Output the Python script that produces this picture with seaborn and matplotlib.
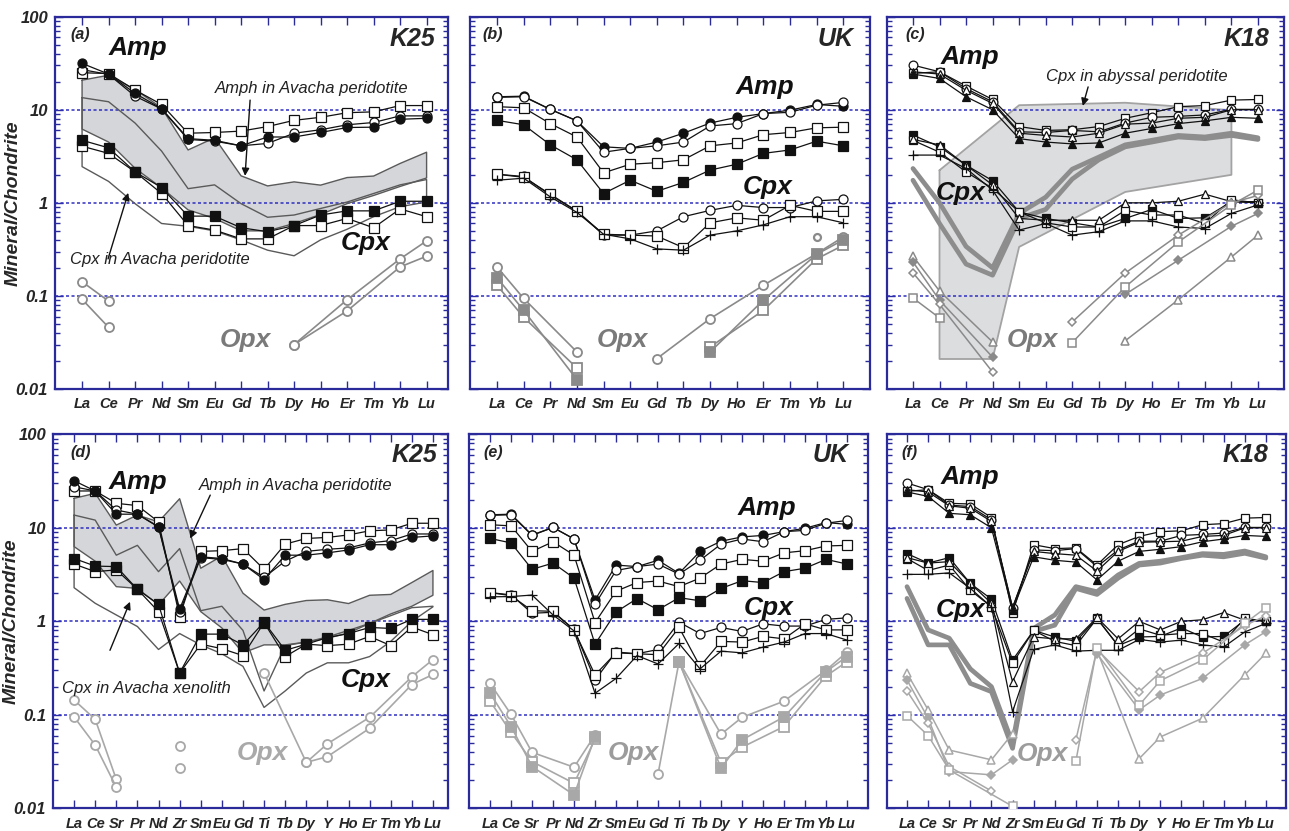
import numpy as np
import pandas as pd
import matplotlib
matplotlib.use("Agg")
import matplotlib.pyplot as plt
import seaborn as sns
from matplotlib.ticker import LogLocator, NullFormatter, FixedLocator

sns.set_style("white")
plt.rcParams['font.family'] = ['Liberation Sans', 'DejaVu Sans']

N = None
REE = ['La', 'Ce', 'Pr', 'Nd', 'Sm', 'Eu', 'Gd', 'Tb', 'Dy', 'Ho', 'Er', 'Tm', 'Yb', 'Lu']
EXT = ['La', 'Ce', 'Sr', 'Pr', 'Nd', 'Zr', 'Sm', 'Eu', 'Gd', 'Ti', 'Tb', 'Dy', 'Y', 'Ho', 'Er', 'Tm', 'Yb', 'Lu']
YTICKS = [0.01, 0.1, 1, 10, 100]
YTICKLABELS = ['0.01', '0.1', '1', '10', '100']

# ---------------- (a) K25, REE ----------------
amp_a_fc = [31.5, 24.2, 15.0, 10.3, 4.9, 4.7, 4.1, 5.1, 5.1, 5.7, 6.45, 6.5, 7.9, 8.1]
amp_a_oc = [27, 24, 14, 10.2, 4.8, 4.6, 4.1, 4.35, 5.6, 6.1, 6.9, 7.3, 8.6, 8.6]
amp_a_os = [25, 24.5, 16.3, 11.4, 5.6, 5.7, 5.9, 6.6, 7.7, 8.3, 9.3, 9.5, 11.1, 11.1]
cpx_a_fs = [4.7, 3.9, 2.15, 1.46, 0.72, 0.72, 0.54, 0.49, 0.57, 0.74, 0.82, 0.82, 1.04, 1.04]
cpx_a_os = [4.06, 3.4, 2.15, 1.26, 0.57, 0.51, 0.41, 0.41, 0.57, 0.57, 0.68, 0.54, 0.86, 0.71]
opx_a1_lo = [0.142, 0.088] + [N] * 12
opx_a1_hi = [N, N, N, N, N, N, N, N, 0.030, N, 0.091, N, 0.25, 0.39]
opx_a2_lo = [0.092, 0.046] + [N] * 12
opx_a2_hi = [N, N, N, N, N, N, N, N, 0.030, N, 0.069, N, 0.205, 0.267]
amph_field_a_top = [20.8, 23.5, 16.5, 10.5, 3.7, 5.0, 1.95, 1.52, 1.68, 1.55, 1.87, 1.94, 2.65, 3.5]
amph_field_a_bot = [6.2, 4.5, 2.35, 1.45, 0.84, 0.68, 0.50, 0.50, 0.60, 0.75, 0.98, 1.2, 1.5, 1.85]
cpx_field_a_top = [13.5, 12.2, 7.2, 3.6, 1.42, 1.56, 0.98, 0.70, 0.74, 0.87, 1.02, 1.26, 1.56, 1.78]
cpx_field_a_bot = [2.45, 1.7, 0.98, 0.60, 0.56, 0.50, 0.40, 0.31, 0.27, 0.40, 0.52, 0.71, 0.91, 1.02]

# ---------------- (b) UK, REE ----------------
amp_b_fc = [13.8, 14.0, 10.1, 7.6, 4.0, 3.85, 4.5, 5.6, 7.2, 8.3, 9.1, 9.9, 11.4, 10.9]
amp_b_oc = [13.6, 13.8, 10.1, 7.6, 3.5, 3.85, 4.1, 4.5, 6.7, 7.1, 9.1, 9.4, 11.2, 12.0]
amp_b_os = [10.8, 10.5, 7.1, 5.1, 2.1, 2.6, 2.7, 2.9, 4.1, 4.4, 5.4, 5.7, 6.4, 6.5]
amp_b_fs = [7.7, 6.9, 4.2, 2.9, 1.26, 1.75, 1.33, 1.66, 2.25, 2.6, 3.4, 3.7, 4.6, 4.1]
cpx_b_oc = [2.03, 1.92, 1.21, 0.82, 0.45, 0.45, 0.50, 0.71, 0.83, 0.94, 0.89, 0.89, 1.05, 1.09]
cpx_b_os = [2.03, 1.88, 1.24, 0.81, 0.46, 0.45, 0.44, 0.33, 0.61, 0.69, 0.65, 0.94, 0.81, 0.81]
cpx_b_pl = [1.75, 1.84, 1.16, 0.79, 0.46, 0.41, 0.32, 0.31, 0.45, 0.50, 0.58, 0.71, 0.71, 0.61]
opx_b_oc_lo = [0.205, 0.094, N, 0.025] + [N] * 10
opx_b_oc_hi = [N, N, N, N, N, N, 0.0212, N, 0.057, N, 0.130, N, 0.285, 0.43]
opx_b_os_lo = [0.13, 0.059, N, 0.0168] + [N] * 10
opx_b_os_hi = [N, N, N, N, N, N, N, N, 0.0283, N, 0.070, N, 0.25, 0.35]
opx_b_gs_lo = [0.157, 0.070, N, 0.0126] + [N] * 10
opx_b_gs_hi = [N, N, N, N, N, N, N, N, 0.025, N, 0.09, N, 0.28, 0.40]
opx_b_single = [N] * 12 + [0.43, N]

# ---------------- (c) K18, REE ----------------
amp_c_oc = [30.2, 25.6, 16.9, 12.2, 5.8, 5.7, 6.0, 5.8, 7.2, 8.3, 8.5, 8.8, 10.1, 10.1]
amp_c_os = [24.6, 25.6, 18.0, 12.9, 6.6, 6.0, 6.1, 6.6, 8.1, 9.3, 10.8, 11.1, 12.7, 12.9]
amp_c_ot = [25.6, 24.2, 16.2, 11.7, 5.6, 5.3, 5.1, 5.6, 7.0, 7.2, 8.1, 8.3, 10.0, 10.0]
amp_c_ft = [24.2, 21.7, 13.8, 10.0, 4.9, 4.5, 4.3, 4.4, 5.6, 6.3, 7.1, 7.6, 8.3, 8.1]
cpx_c_fs = [5.35, 4.0, 2.54, 1.73, 0.80, 0.68, 0.61, 0.55, 0.68, 0.85, 0.68, 0.69, 1.03, 1.0]
cpx_c_os = [4.7, 3.5, 2.15, 1.43, 0.80, 0.61, 0.55, 0.55, 0.83, 0.74, 0.74, 0.60, 1.08, 1.0]
cpx_c_ot = [4.8, 4.2, 2.54, 1.56, 0.68, 0.65, 0.65, 0.65, 1.0, 1.0, 1.04, 1.24, 1.03, 1.03]
cpx_c_pl = [3.26, 3.26, 2.34, 1.37, 0.51, 0.60, 0.45, 0.49, 0.64, 0.64, 0.55, 0.53, 0.77, 0.95]
opx_c_ot_lo = [0.267, 0.113, N, 0.032] + [N] * 10
opx_c_ot_hi = [N, N, N, N, N, N, N, N, 0.033, N, 0.091, N, 0.262, 0.45]
opx_c_fd_lo = [0.232, 0.09, N, 0.022] + [N] * 10
opx_c_fd_hi = [N, N, N, N, N, N, N, N, 0.104, N, 0.242, N, 0.56, 0.77]
opx_c_od_lo = [0.177, 0.081, N, 0.0152] + [N] * 10
opx_c_od_hi = [N, N, N, N, N, N, 0.0525, N, 0.176, N, 0.45, N, 1.0, 1.2]
opx_c_os_lo = [0.095, 0.058] + [N] * 12
opx_c_os_hi = [N, N, N, N, N, N, 0.0315, N, 0.125, N, 0.38, N, 0.95, 1.37]
thick_c_a = [2.34, 1.0, 0.34, 0.20, 0.77, 1.15, 2.3, 3.1, 4.2, 4.7, 5.3, 5.1, 5.6, 5.0]
thick_c_b = [1.75, 0.6, 0.22, 0.167, 0.68, 0.85, 1.8, 2.9, 4.0, 4.5, 5.1, 4.9, 5.3, 4.8]
abyssal_top = [N, 2.24, N, N, 11.2, N, N, N, 11.9, N, N, N, 9.9, N]
abyssal_bot = [N, 0.021, N, 0.021, 0.336, N, N, N, 1.31, N, N, N, 2.0, N]

# ---------------- (d) K25, extended ----------------
amp_d_fc = [31.9, 24.8, 14.0, 14.0, 10.3, 1.35, 4.9, 4.7, 4.1, 2.8, 5.1, 5.1, 5.4, 5.8, 6.6, 6.6, 7.9, 8.2]
amp_d_oc = [27.5, 24.8, 15.5, 14.0, 10.2, 1.25, 4.8, 4.6, 4.1, 2.95, 4.4, 5.6, 5.9, 6.1, 6.9, 7.3, 8.6, 8.6]
amp_d_os = [24.8, 24.8, 18.3, 17.3, 11.6, 1.12, 5.6, 5.7, 6.0, 3.6, 6.7, 7.7, 7.9, 8.4, 9.3, 9.5, 11.2, 11.2]
cpx_d_fs = [4.7, 3.9, 3.85, 2.2, 1.52, 0.28, 0.73, 0.73, 0.56, 0.98, 0.49, 0.57, 0.67, 0.74, 0.86, 0.84, 1.05, 1.05]
cpx_d_os = [4.1, 3.4, 3.55, 2.2, 1.27, 0.28, 0.57, 0.51, 0.43, 0.97, 0.42, 0.57, 0.55, 0.57, 0.69, 0.55, 0.87, 0.72]
opx_d1_lo = [0.144, 0.0895, 0.0204] + [N] * 15
opx_d1_zr = [N, N, N, N, N, 0.0465] + [N] * 12
opx_d1_hi = [N, N, N, N, N, N, N, N, N, 0.28, N, 0.031, 0.049, N, 0.094, N, 0.255, 0.39]
opx_d2_lo = [0.095, 0.0475, 0.0168] + [N] * 15
opx_d2_zr = [N, N, N, N, N, 0.0268] + [N] * 12
opx_d2_hi = [N, N, N, N, N, N, N, N, N, N, N, 0.031, 0.0357, N, 0.0718, N, 0.211, 0.27]
amph_field_d_top = [20.7, 23.4, 10.7, 13.7, 11.6, 20.5, 3.7, 5.0, 2.0, 1.32, 1.52, 1.67, 1.7, 1.55, 1.9, 1.94, 2.6, 3.5]
amph_field_d_bot = [6.3, 4.4, 2.35, 2.25, 1.5, 2.7, 1.27, 0.85, 0.46, 0.56, 0.56, 0.60, 0.66, 0.75, 0.95, 1.2, 1.45, 1.9]
cpx_field_d_top = [13.7, 12.1, 5.1, 6.5, 3.4, 6.0, 1.3, 1.45, 0.8, 0.18, 0.55, 0.60, 0.68, 0.80, 0.95, 1.15, 1.4, 1.45]
cpx_field_d_bot = [2.29, 1.56, 1.17, 0.88, 0.50, 0.74, 0.56, 0.45, 0.33, 0.12, 0.18, 0.28, 0.36, 0.36, 0.42, 0.61, 1.0, 1.43]

# ---------------- (e) UK, extended ----------------
amp_e_fc = [13.8, 14.0, 8.4, 10.1, 7.6, 1.69, 4.0, 3.85, 4.5, 3.26, 5.6, 7.2, 8.0, 8.3, 9.1, 9.9, 11.4, 10.9]
amp_e_oc = [13.6, 13.8, 8.3, 10.1, 7.6, 1.52, 3.5, 3.85, 4.1, 3.2, 4.5, 6.7, 7.6, 7.1, 9.1, 9.4, 11.2, 12.0]
amp_e_os = [10.8, 10.5, 5.6, 7.1, 5.1, 0.97, 2.1, 2.6, 2.7, 2.35, 2.9, 4.1, 4.6, 4.4, 5.4, 5.7, 6.4, 6.5]
amp_e_fs = [7.7, 6.9, 3.6, 4.2, 2.9, 0.57, 1.26, 1.75, 1.33, 1.79, 1.66, 2.25, 2.72, 2.6, 3.4, 3.7, 4.6, 4.1]
cpx_e_oc = [2.03, 1.92, 1.22, 1.25, 0.82, 0.236, 0.47, 0.45, 0.50, 0.98, 0.74, 0.86, 0.78, 0.94, 0.89, 0.89, 1.05, 1.09]
cpx_e_os = [2.03, 1.88, 1.30, 1.28, 0.81, 0.267, 0.46, 0.45, 0.44, 0.86, 0.33, 0.61, 0.60, 0.69, 0.65, 0.94, 0.81, 0.81]
cpx_e_pl = [1.83, 1.84, 1.91, 1.17, 0.79, 0.17, 0.245, 0.43, 0.35, 0.58, 0.31, 0.48, 0.46, 0.53, 0.60, 0.74, 0.74, 0.63]
opx_e_oc_lo = [0.217, 0.101, 0.0397, N, 0.0275, 0.061] + [N] * 12
opx_e_oc_hi = [N, N, N, N, N, N, N, N, 0.0233, 0.37, N, 0.062, 0.094, N, 0.14, N, 0.30, 0.47]
opx_e_os_lo = [0.14, 0.065, 0.0316, N, 0.0185, 0.055] + [N] * 12
opx_e_os_hi = [N, N, N, N, N, N, N, N, N, 0.37, N, 0.0308, 0.045, N, 0.075, N, 0.26, 0.37]
opx_e_gs_lo = [0.17, 0.075, 0.028, N, 0.0139, 0.058] + [N] * 12
opx_e_gs_hi = [N, N, N, N, N, N, N, N, N, 0.37, N, 0.0268, 0.054, N, 0.095, N, 0.29, 0.42]

# ---------------- (f) K18, extended ----------------
amp_f_oc = [30.2, 25.6, 17.5, 16.9, 12.2, 1.4, 5.8, 5.7, 6.0, 3.85, 5.8, 7.2, 7.2, 8.3, 8.5, 8.8, 10.1, 10.1]
amp_f_os = [24.6, 25.6, 18.3, 18.0, 12.9, 1.22, 6.6, 6.0, 6.1, 4.0, 6.6, 8.1, 9.1, 9.3, 10.8, 11.1, 12.7, 12.9]
amp_f_ot = [25.6, 24.2, 17.2, 16.2, 11.7, 1.4, 5.6, 5.3, 5.1, 3.45, 5.6, 7.0, 7.1, 7.2, 8.1, 8.3, 10.0, 10.0]
amp_f_ft = [24.2, 21.7, 14.3, 13.8, 10.0, 1.32, 4.9, 4.5, 4.3, 2.77, 4.4, 5.6, 5.9, 6.3, 7.1, 7.6, 8.3, 8.1]
cpx_f_fs = [5.3, 4.2, 4.8, 2.54, 1.73, 0.385, 0.80, 0.68, 0.61, 1.08, 0.55, 0.68, 0.69, 0.85, 0.68, 0.69, 1.03, 1.0]
cpx_f_os = [4.7, 3.5, 4.0, 2.15, 1.43, 0.355, 0.80, 0.61, 0.55, 1.07, 0.55, 0.83, 0.71, 0.74, 0.74, 0.60, 1.08, 1.0]
cpx_f_ot = [4.8, 4.2, 4.35, 2.54, 1.56, 0.226, 0.68, 0.65, 0.65, 1.1, 0.65, 1.0, 0.81, 1.0, 1.04, 1.24, 1.03, 1.03]
cpx_f_pl = [3.18, 3.18, 3.3, 2.25, 1.43, 0.108, 0.50, 0.56, 0.48, 0.49, 0.49, 0.64, 0.60, 0.63, 0.56, 0.53, 0.77, 0.95]
opx_f_ot_lo = [0.278, 0.113, 0.042, N, 0.033, 0.063] + [N] * 12
opx_f_ot_hi = [N, N, N, N, N, N, N, N, N, 0.49, N, 0.034, 0.058, N, 0.092, N, 0.267, 0.455]
opx_f_fd_lo = [0.236, 0.092, 0.0247, N, 0.0228, 0.033] + [N] * 12
opx_f_fd_hi = [N, N, N, N, N, N, N, N, N, 0.45, N, 0.113, 0.163, N, 0.245, N, 0.56, 0.775]
opx_f_od_lo = [0.18, 0.081, 0.028, N, 0.0153] + [N] * 13
opx_f_od_hi = [N, N, N, N, N, N, N, N, 0.054, 0.50, N, 0.177, 0.285, N, 0.455, N, 0.9, 1.15]
opx_f_os_lo = [0.098, 0.06, 0.0257, N, N, 0.0105] + [N] * 12
opx_f_os_hi = [N, N, N, N, N, N, N, N, 0.032, 0.52, N, 0.127, 0.232, N, 0.385, N, 0.95, 1.4]
thick_f_a = [2.35, 0.81, 0.66, 0.31, 0.20, 0.0495, 0.84, 1.17, 2.35, 2.07, 3.13, 4.17, 4.4, 4.8, 5.3, 5.2, 5.65, 4.9]
thick_f_b = [1.76, 0.56, 0.56, 0.217, 0.177, 0.0438, 0.78, 0.91, 2.25, 1.94, 2.9, 4.0, 4.2, 4.7, 5.1, 4.9, 5.35, 4.75]

# ---------------- styling ----------------
NAVY = '#2a2a9a'
GRID = '#2f2fc0'
BLACK = '#111111'
GRAY_T = '#8a8a8a'
GRAY_B = '#a8a8a8'
FIELD_FILL = '#d5d6d9'
FIELD_EDGE = '#5a5a5a'


def arr(lst):
    return np.array([np.nan if v is None else v for v in lst], dtype=float)


def series(ax, lst, marker='o', mfc='white', color=BLACK, lw=0.9, ms=6.5, mew=0.9, z=4):
    y = arr(lst)
    df = pd.DataFrame({'pos': np.arange(len(y)), 'val': y}).dropna()
    if df.empty:
        return
    sns.lineplot(data=df, x='pos', y='val', ax=ax, color=color, linewidth=lw,
                 marker=marker, markersize=ms, markerfacecolor=mfc,
                 markeredgecolor=color, markeredgewidth=mew,
                 estimator=None, sort=False, legend=False, zorder=z)


def outline(ax, top, bot, fill=None, edge=FIELD_EDGE, lw=1.0, z=2):
    t = arr(top)
    b = arr(bot)
    it = np.where(~np.isnan(t))[0]
    ib = np.where(~np.isnan(b))[0]
    xs = np.concatenate([it, ib[::-1], it[:1]]).astype(float)
    ys = np.concatenate([t[it], b[ib][::-1], t[it][:1]])
    if fill is not None:
        ax.fill(xs, ys, color=fill, lw=0, zorder=1)
    df = pd.DataFrame({'pos': xs, 'val': ys})
    sns.lineplot(data=df, x='pos', y='val', ax=ax, color=edge, linewidth=lw,
                 estimator=None, sort=False, legend=False, zorder=z)


def thick(ax, lst):
    y = arr(lst)
    df = pd.DataFrame({'pos': np.arange(len(y)), 'val': y}).dropna()
    sns.lineplot(data=df, x='pos', y='val', ax=ax, color='#8d8d8d', linewidth=3.4,
                 estimator=None, sort=False, legend=False, zorder=3)


def word(ax, x, y, s, size=19, color=BLACK, ha='center'):
    ax.text(x, y, s, fontsize=size, fontweight='bold', fontstyle='italic',
            color=color, ha=ha, va='center', zorder=7)


def note(ax, x, y, s, size=12, ha='left'):
    ax.text(x, y, s, fontsize=size, fontstyle='italic', color='#222222',
            ha=ha, va='center', zorder=7)


def arrow(ax, start, tip):
    ax.annotate('', xy=tip, xytext=start,
                arrowprops=dict(arrowstyle='-|>', color=BLACK, lw=1.0,
                                mutation_scale=11, shrinkA=0, shrinkB=0), zorder=7)


def frame(ax, elems, xlim, corner, sample, corner_x, sample_x, sample_y, left_labels):
    ax.set_yscale('log')
    ax.set_ylim(0.01, 100)
    ax.set_xlim(*xlim)
    for v in [10, 1, 0.1]:
        ax.axhline(v, color=GRID, lw=1.1, ls=(0, (2.0, 1.6)), zorder=1.5)
    for s in ax.spines.values():
        s.set_color(NAVY)
        s.set_linewidth(1.6)
    ax.set_xticks(range(len(elems)))
    ax.set_xticklabels(elems, fontsize=10.5, fontweight='bold', fontstyle='italic')
    ax.xaxis.set_minor_locator(FixedLocator([]))
    ax.yaxis.set_major_locator(FixedLocator(YTICKS))
    ax.yaxis.set_minor_locator(LogLocator(base=10, subs=np.arange(2, 10)))
    ax.yaxis.set_minor_formatter(NullFormatter())
    if left_labels:
        ax.set_yticklabels(YTICKLABELS, fontsize=12, fontweight='bold', fontstyle='italic')
        ax.set_ylabel('Mineral/Chondrite', fontsize=14, fontweight='bold', fontstyle='italic')
        ax.yaxis.set_label_coords(-0.085, 0.5)
    else:
        ax.set_yticklabels([])
        ax.set_ylabel('')
    ax.set_xlabel('')
    ax.tick_params(axis='both', which='both', direction='in', color=NAVY,
                   top=True, right=True, bottom=True, left=True, width=1.0)
    ax.tick_params(axis='both', which='major', length=6, pad=5)
    ax.tick_params(axis='y', which='minor', length=3.5)
    ax.tick_params(axis='x', which='major', pad=6)
    ax.text(corner_x, 0.952, corner, transform=ax.transAxes, fontsize=11.5,
            fontweight='bold', fontstyle='italic', ha='left', va='center', zorder=7)
    ax.text(sample_x, sample_y, sample, transform=ax.transAxes, fontsize=18,
            fontweight='bold', fontstyle='italic', ha='right', va='center', zorder=7)


fig = plt.figure(figsize=(12.89, 8.31), dpi=100)
ax_a = fig.add_axes([0.0427, 0.5319, 0.3049, 0.448])
ax_b = fig.add_axes([0.3646, 0.5319, 0.3103, 0.448])
ax_c = fig.add_axes([0.6881, 0.5319, 0.3080, 0.448])
ax_d = fig.add_axes([0.0411, 0.0273, 0.3064, 0.450])
ax_e = fig.add_axes([0.3639, 0.0273, 0.3095, 0.450])
ax_f = fig.add_axes([0.6881, 0.0273, 0.3095, 0.450])
for ax in [ax_a, ax_b, ax_c, ax_d, ax_e, ax_f]:
    ax.set_yscale('log')

# ---- (a)
ax = ax_a
outline(ax, amph_field_a_top, amph_field_a_bot, fill=FIELD_FILL)
outline(ax, cpx_field_a_top, cpx_field_a_bot)
series(ax, amp_a_os, 's', 'white')
series(ax, amp_a_oc, 'o', 'white')
series(ax, amp_a_fc, 'o', BLACK)
series(ax, cpx_a_os, 's', 'white')
series(ax, cpx_a_fs, 's', BLACK)
for s in [opx_a1_lo, opx_a1_hi, opx_a2_lo, opx_a2_hi]:
    series(ax, s, 'o', 'white', color=GRAY_T, lw=1.2, ms=6.5, mew=1.3)
word(ax, 2.1, 46, 'Amp')
word(ax, 10.7, 0.37, 'Cpx')
word(ax, 6.15, 0.034, 'Opx', color='#7a7a7a')
note(ax, 5.02, 17.1, 'Amph in Avacha peridotite')
note(ax, -0.45, 0.244, 'Cpx in Avacha peridotite')
arrow(ax, (6.34, 12.7), (6.15, 1.95))
arrow(ax, (0.98, 0.25), (1.74, 1.28))
frame(ax, REE, (-1.02, 13.81), '(a)', 'K25', 0.038, 0.967, 0.94, True)

# ---- (b)
ax = ax_b
for s, m, f in [(amp_b_fc, 'o', BLACK), (amp_b_oc, 'o', 'white'), (amp_b_os, 's', 'white'),
                (amp_b_fs, 's', BLACK), (cpx_b_oc, 'o', 'white'), (cpx_b_os, 's', 'white'),
                (cpx_b_pl, '+', 'white')]:
    series(ax, s, m, f, ms=7 if m == '+' else 6.5)
for s, m, f in [(opx_b_oc_lo, 'o', 'white'), (opx_b_oc_hi, 'o', 'white'),
                (opx_b_os_lo, 's', 'white'), (opx_b_os_hi, 's', 'white'),
                (opx_b_gs_lo, 's', GRAY_T), (opx_b_gs_hi, 's', GRAY_T)]:
    series(ax, s, m, f, color=GRAY_T, lw=1.2, ms=6.5, mew=1.3)
series(ax, opx_b_single, 'o', 'white', color=GRAY_T, ms=5, mew=1.6)
word(ax, 10.07, 17.6, 'Amp')
word(ax, 10.15, 1.48, 'Cpx')
word(ax, 4.7, 0.034, 'Opx', color='#7a7a7a')
frame(ax, REE, (-1.015, 14.0), '(b)', 'UK', 0.03, 0.958, 0.94, False)

# ---- (c)
ax = ax_c
outline(ax, abyssal_top, abyssal_bot, fill='#dcdddf', edge='#a3a3a3', lw=1.3, z=1.2)
thick(ax, thick_c_a)
thick(ax, thick_c_b)
for s, m, f in [(amp_c_os, 's', 'white'), (amp_c_oc, 'o', 'white'), (amp_c_ot, '^', 'white'),
                (amp_c_ft, '^', BLACK), (cpx_c_fs, 's', BLACK), (cpx_c_os, 's', 'white'),
                (cpx_c_ot, '^', 'white'), (cpx_c_pl, '+', 'white')]:
    series(ax, s, m, f, ms=7 if m == '+' else 6.3)
for s, m, f, ms in [(opx_c_ot_lo, '^', 'white', 5.5), (opx_c_ot_hi, '^', 'white', 5.5),
                    (opx_c_fd_lo, 'D', GRAY_T, 4.5), (opx_c_fd_hi, 'D', GRAY_T, 4.5),
                    (opx_c_od_lo, 'D', 'white', 4.5), (opx_c_od_hi, 'D', 'white', 4.5),
                    (opx_c_os_lo, 's', 'white', 6), (opx_c_os_hi, 's', 'white', 6)]:
    series(ax, s, m, f, color=GRAY_T, lw=1.1, ms=ms, mew=1.1)
word(ax, 2.15, 36.9, 'Amp')
word(ax, 1.8, 1.28, 'Cpx')
word(ax, 4.5, 0.034, 'Opx', color='#7a7a7a')
note(ax, 8.45, 22.5, 'Cpx in abyssal peridotite', ha='center')
arrow(ax, (6.6, 17.6), (6.4, 11.0))
frame(ax, REE, (-0.98, 13.98), '(c)', 'K18', 0.047, 0.962, 0.94, False)

# ---- (d)
ax = ax_d
outline(ax, amph_field_d_top, amph_field_d_bot, fill=FIELD_FILL)
outline(ax, cpx_field_d_top, cpx_field_d_bot)
series(ax, amp_d_os, 's', 'white')
series(ax, amp_d_oc, 'o', 'white')
series(ax, amp_d_fc, 'o', BLACK)
series(ax, cpx_d_os, 's', 'white')
series(ax, cpx_d_fs, 's', BLACK)
for s in [opx_d1_lo, opx_d1_zr, opx_d1_hi, opx_d2_lo, opx_d2_zr, opx_d2_hi]:
    series(ax, s, 'o', 'white', color=GRAY_B, lw=1.2, ms=6.5, mew=1.3)
word(ax, 3.03, 31.1, 'Amp')
word(ax, 13.8, 0.235, 'Cpx')
word(ax, 8.9, 0.039, 'Opx', color='#a9a9a9')
note(ax, 5.92, 28.7, 'Amph in Avacha peridotite')
note(ax, -0.57, 0.189, 'Cpx in Avacha xenolith')
arrow(ax, (6.45, 22.4), (5.5, 7.7))
arrow(ax, (1.7, 0.49), (2.65, 1.62))
frame(ax, EXT, (-1.0, 17.71), '(d)', 'K25', 0.043, 0.972, 0.945, True)

# ---- (e)
ax = ax_e
for s, m, f in [(amp_e_fc, 'o', BLACK), (amp_e_oc, 'o', 'white'), (amp_e_os, 's', 'white'),
                (amp_e_fs, 's', BLACK), (cpx_e_oc, 'o', 'white'), (cpx_e_os, 's', 'white'),
                (cpx_e_pl, '+', 'white')]:
    series(ax, s, m, f, ms=7 if m == '+' else 6.5)
for s, m, f in [(opx_e_oc_lo, 'o', 'white'), (opx_e_oc_hi, 'o', 'white'),
                (opx_e_os_lo, 's', 'white'), (opx_e_os_hi, 's', 'white'),
                (opx_e_gs_lo, 's', GRAY_B), (opx_e_gs_hi, 's', GRAY_B)]:
    series(ax, s, m, f, color=GRAY_B, lw=1.2, ms=6.5, mew=1.3)
word(ax, 13.2, 16.3, 'Amp')
word(ax, 13.25, 1.4, 'Cpx')
word(ax, 6.8, 0.039, 'Opx', color='#9c9c9c')
frame(ax, EXT, (-1.0, 18.0), '(e)', 'UK', 0.035, 0.952, 0.945, False)

# ---- (f)
ax = ax_f
thick(ax, thick_f_a)
thick(ax, thick_f_b)
for s, m, f in [(amp_f_os, 's', 'white'), (amp_f_oc, 'o', 'white'), (amp_f_ot, '^', 'white'),
                (amp_f_ft, '^', BLACK), (cpx_f_fs, 's', BLACK), (cpx_f_os, 's', 'white'),
                (cpx_f_ot, '^', 'white'), (cpx_f_pl, '+', 'white')]:
    series(ax, s, m, f, ms=7 if m == '+' else 6.3)
for s, m, f, ms in [(opx_f_ot_lo, '^', 'white', 5.5), (opx_f_ot_hi, '^', 'white', 5.5),
                    (opx_f_fd_lo, 'D', GRAY_B, 4.5), (opx_f_fd_hi, 'D', GRAY_B, 4.5),
                    (opx_f_od_lo, 'D', 'white', 4.5), (opx_f_od_hi, 'D', 'white', 4.5),
                    (opx_f_os_lo, 's', 'white', 6), (opx_f_os_hi, 's', 'white', 6)]:
    series(ax, s, m, f, color=GRAY_B, lw=1.1, ms=ms, mew=1.1)
word(ax, 3.0, 35.3, 'Amp')
word(ax, 2.55, 1.32, 'Cpx')
word(ax, 6.4, 0.038, 'Opx', color='#9c9c9c')
frame(ax, EXT, (-0.95, 17.95), '(f)', 'K18', 0.037, 0.957, 0.945, False)

fig.savefig('out.png', dpi=100)
